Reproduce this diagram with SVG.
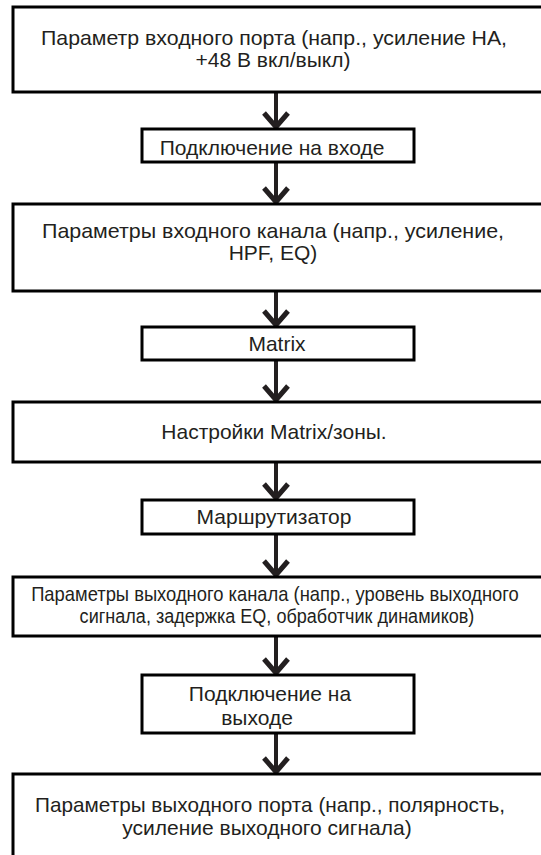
<svg xmlns="http://www.w3.org/2000/svg" width="541" height="855" viewBox="0 0 541 855">
<style>
  .box { fill: #ffffff; stroke: #000000; stroke-width: 3; }
  .t { font-family: "Liberation Sans", Arial, sans-serif; font-size: 21px; fill: #231f20; text-anchor: middle; }
  .line { stroke: #231f20; stroke-width: 4; fill: none; }
  .head { stroke: #231f20; stroke-width: 5; fill: none; stroke-linejoin: miter; }
</style>
<rect width="541" height="855" fill="#ffffff"/>
<g id="connectors">
  <line class="line" x1="276" y1="92" x2="276" y2="126"/>
  <polyline class="head" points="264,113 276,127 288,113"/>
  <line class="line" x1="276" y1="162" x2="276" y2="201"/>
  <polyline class="head" points="264,188 276,202 288,188"/>
  <line class="line" x1="276" y1="291" x2="276" y2="324"/>
  <polyline class="head" points="264,311 276,325 288,311"/>
  <line class="line" x1="276" y1="360" x2="276" y2="399"/>
  <polyline class="head" points="264,386 276,400 288,386"/>
  <line class="line" x1="276" y1="462" x2="276" y2="497"/>
  <polyline class="head" points="264,484 276,498 288,484"/>
  <line class="line" x1="276" y1="534" x2="276" y2="574"/>
  <polyline class="head" points="264,561 276,575 288,561"/>
  <line class="line" x1="276" y1="636" x2="276" y2="672"/>
  <polyline class="head" points="264,659 276,673 288,659"/>
  <line class="line" x1="276" y1="733" x2="276" y2="771"/>
  <polyline class="head" points="264,758 276,772 288,758"/>
</g>
<g id="n1">
  <rect class="box" x="13" y="7" width="540" height="85"/>
  <text class="t" x="274" y="45" textLength="466" lengthAdjust="spacingAndGlyphs">Параметр входного порта (напр., усиление НА,</text>
  <text class="t" x="273" y="67">+48 В вкл/выкл)</text>
</g>
<g id="n2">
  <rect class="box" x="142" y="129" width="272" height="33"/>
  <text class="t" x="272" y="155">Подключение на входе</text>
</g>
<g id="n3">
  <rect class="box" x="13" y="204" width="540" height="87"/>
  <text class="t" x="273" y="238" textLength="462" lengthAdjust="spacingAndGlyphs">Параметры входного канала (напр., усиление,</text>
  <text class="t" x="273" y="260">HPF, EQ)</text>
</g>
<g id="n4">
  <rect class="box" x="142" y="327" width="272" height="33"/>
  <text class="t" x="277" y="351">Matrix</text>
</g>
<g id="n5">
  <rect class="box" x="13" y="402" width="540" height="60"/>
  <text class="t" x="274" y="439">Настройки Matrix/зоны.</text>
</g>
<g id="n6">
  <rect class="box" x="142" y="500" width="272" height="34"/>
  <text class="t" x="274" y="524">Маршрутизатор</text>
</g>
<g id="n7">
  <rect class="box" x="13" y="577" width="540" height="59"/>
  <text class="t" font-size="20" transform="translate(275,601) scale(0.875,1)">Параметры выходного канала (напр., уровень выходного</text>
  <text class="t" font-size="20" transform="translate(277,623) scale(0.86,1)">сигнала, задержка EQ, обработчик динамиков)</text>
</g>
<g id="n8">
  <rect class="box" x="142" y="675" width="272" height="58"/>
  <text class="t" x="270" y="701">Подключение на</text>
  <text class="t" x="257" y="725">выходе</text>
</g>
<g id="n9">
  <rect class="box" x="13" y="774" width="540" height="100"/>
  <text class="t" x="270" y="812" textLength="470" lengthAdjust="spacingAndGlyphs">Параметры выходного порта (напр., полярность,</text>
  <text class="t" x="267" y="835">усиление выходного сигнала)</text>
</g>
</svg>
